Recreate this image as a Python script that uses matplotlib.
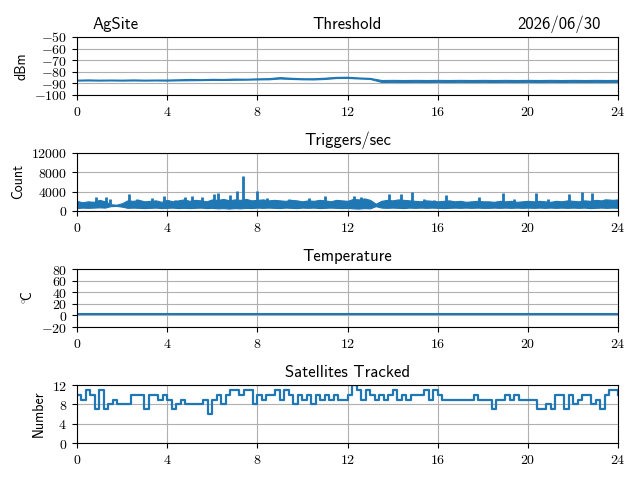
import numpy as np
import matplotlib
matplotlib.use("Agg")
import matplotlib.pyplot as plt
from matplotlib.ticker import FuncFormatter

plt.rcParams['font.family'] = ['cmss10', 'DejaVu Sans']
plt.rcParams['mathtext.fontset'] = 'cm'
plt.rcParams['axes.unicode_minus'] = False

site = "AgSite"
date = "2026/06/30"

# threshold (dBm), low/high read every 0.5 h
thr_hours = np.arange(0, 24.01, 0.5)
thr_low = [-87.6, -87.5, -87.6, -87.5, -87.6, -87.5, -87.6, -87.5, -87.6,
           -87.4, -87.3, -87.2, -87.0, -87.1, -86.9, -86.8, -86.6,
           -86.5, -85.8, -86.2, -86.5, -86.6, -86.2, -85.4, -85.3,
           -85.8, -86.2, -88.8, -88.7, -88.8, -88.7, -88.8, -88.7,
           -88.8, -88.7, -88.8, -88.7, -88.8, -88.7, -88.8, -88.7,
           -88.8, -88.7, -88.8, -88.7, -88.8, -88.7, -88.8, -88.7]
thr_high = [-86.8, -86.6, -86.8, -86.7, -86.8, -86.6, -86.8, -86.7, -86.7,
            -86.5, -86.2, -86.4, -86.1, -86.2, -85.9, -86.0, -85.7,
            -85.5, -84.6, -85.2, -85.6, -85.6, -85.1, -84.4, -84.3,
            -84.9, -85.3, -87.1, -87.0, -87.1, -87.0, -87.1, -87.0,
            -87.1, -87.0, -87.1, -87.0, -87.1, -87.0, -87.1, -87.0,
            -87.1, -87.0, -87.1, -87.0, -87.1, -87.0, -87.1, -87.0]

# triggers/sec, band low/high read every 0.25 h, plus spikes
trig_hours = np.arange(0, 24.01, 0.25)
trig_low = [600, 700, 650, 700, 750, 700, 1000, 1050, 900, 650, 700, 650, 600,
            650, 700, 600, 650, 700, 600, 650, 600, 650, 700, 600, 650,
            550, 600, 500, 600, 550, 650, 600, 700, 650, 700, 650, 600,
            700, 650, 600, 700, 650, 700, 600, 650, 700, 650, 600, 650,
            550, 500, 600, 550, 1000, 700, 650, 700, 650, 600, 700, 650,
            700, 650, 700, 650, 600, 650, 700, 650, 700, 650, 700, 650,
            650, 700, 650, 700, 650, 700, 650, 700, 650, 700, 650, 700,
            650, 700, 650, 700, 650, 700, 600, 650, 700, 650, 700, 650]
trig_high = [2100, 1800, 2000, 1900, 2300, 2000, 1400, 1300, 1600, 2200, 2100, 2300, 2000,
             2100, 2200, 1900, 2300, 2000, 2200, 2400, 2100, 2300, 2200, 2000, 2400,
             2300, 2500, 2200, 2400, 2300, 2500, 2200, 2300, 2400, 2200, 2300, 2200,
             2100, 2300, 2200, 2000, 2200, 2100, 2300, 2200, 2000, 2300, 2200, 2100,
             2500, 2400, 2600, 2300, 1500, 2100, 2300, 2200, 2400, 2300, 2200, 2100,
             2000, 2200, 2100, 2000, 2100, 2200, 2000, 2100, 1900, 2000, 2100, 2000,
             2000, 1900, 2100, 2000, 2100, 1900, 2000, 2100, 2000, 2100, 2000, 1900,
             2100, 2000, 2200, 2100, 2000, 2200, 2100, 2300, 2200, 2400, 2300, 2400]
spike_hours = [0.83, 1.29, 1.47, 2.33, 2.65, 3.35, 3.88, 4.36, 4.8, 5.1, 5.54, 6.06,
               6.25, 6.8, 7.1, 7.35, 8.0, 8.43, 9.4, 10.3, 11.0, 11.6, 12.3, 12.6,
               13.85, 14.35, 14.85, 15.4, 15.85, 16.35, 16.9, 17.85, 18.9, 19.4,
               20.35, 20.9, 21.8, 22.4, 22.85, 23.4]
spike_counts = [2800, 2800, 2500, 3500, 2500, 2700, 3000, 2200, 2900, 3100, 2800, 3600,
                3700, 3400, 4200, 7200, 4200, 2700, 2500, 2700, 3100, 2200, 3000, 2900,
                3500, 3600, 4000, 2500, 2200, 3400, 2100, 2900, 3800, 2500,
                3800, 2500, 3500, 4000, 3800, 2500]

# temperature (C)
temp_hours = [0, 6, 12, 18, 24]
temp_vals = [3, 3, 3, 3, 3]

# satellites tracked, every 0.2 h
sat_hours = np.arange(0, 24.01, 0.2)
sat_vals = [10, 9, 11, 10, 7, 11, 7, 8, 9, 8, 8, 8, 10, 10, 10, 7, 10, 10, 9, 10,
            9, 7, 8, 9, 8, 8, 8, 8, 9, 6, 9, 10, 8, 10, 11, 11, 10, 11, 11, 8,
            10, 9, 10, 10, 11, 9, 11, 10, 8, 10, 9, 10, 8, 10, 9, 10, 9, 10, 9, 9,
            10, 12, 11, 9, 11, 10, 9, 10, 9, 10, 11, 9, 10, 9, 10, 10, 10, 11, 9, 11,
            10, 9, 9, 9, 9, 9, 9, 9, 10, 9, 9, 9, 7, 9, 9, 10, 9, 10, 9, 9,
            9, 9, 7, 7, 8, 7, 10, 10, 7, 10, 8, 9, 10, 10, 8, 9, 7, 10, 11, 11, 10]

blue = "#1f77b4"
mathfmt = FuncFormatter(lambda v, p: f"${v:g}$")

fig, axs = plt.subplots(4, 1, figsize=(6.4, 4.8), dpi=100)
plt.subplots_adjust(left=0.12, right=0.966, top=0.923, bottom=0.077, hspace=1.0)

# threshold band
axs[0].fill_between(thr_hours, thr_low, thr_high, color=blue, lw=0.8, edgecolor=blue)
axs[0].set_ylim(-100, -50)
axs[0].set_yticks([-100, -90, -80, -70, -60, -50])
axs[0].set_ylabel("dBm")
axs[0].set_title("Threshold")
axs[0].annotate(site, (0.03, 1.0), xycoords="axes fraction", xytext=(0, 6),
                textcoords="offset points", fontsize=12, ha="left", va="baseline")
axs[0].annotate(date, (0.967, 1.0), xycoords="axes fraction", xytext=(0, 6),
                textcoords="offset points", fontsize=12, ha="right", va="baseline")

# triggers band + spikes
axs[1].fill_between(trig_hours, trig_low, trig_high, color=blue, lw=0.8, edgecolor=blue)
axs[1].vlines(spike_hours, 1500, spike_counts, color=blue, lw=2)
axs[1].set_ylim(0, 12000)
axs[1].set_yticks([0, 4000, 8000, 12000])
axs[1].set_ylabel("Count")
axs[1].set_title("Triggers/sec")

axs[2].plot(temp_hours, temp_vals, lw=1.5, color=blue)
axs[2].set_ylim(-20, 80)
axs[2].set_yticks([-20, 0, 20, 40, 60, 80])
axs[2].set_ylabel(r"$^\circ\!\!\mathsf{C}$")
axs[2].set_title("Temperature")

axs[3].plot(sat_hours, sat_vals, lw=1.6, color=blue, drawstyle="steps-post")
axs[3].set_ylim(0, 12)
axs[3].set_yticks([0, 4, 8, 12])
axs[3].set_ylabel("Number")
axs[3].set_title("Satellites Tracked")

for ax in axs:
    ax.set_xlim(0, 24)
    ax.set_xticks([0, 4, 8, 12, 16, 20, 24])
    ax.xaxis.set_major_formatter(mathfmt)
    ax.yaxis.set_major_formatter(mathfmt)
    ax.grid(True)
    ax.set_axisbelow(True)
    ax.tick_params(labelsize=10)

plt.savefig("out.png")
